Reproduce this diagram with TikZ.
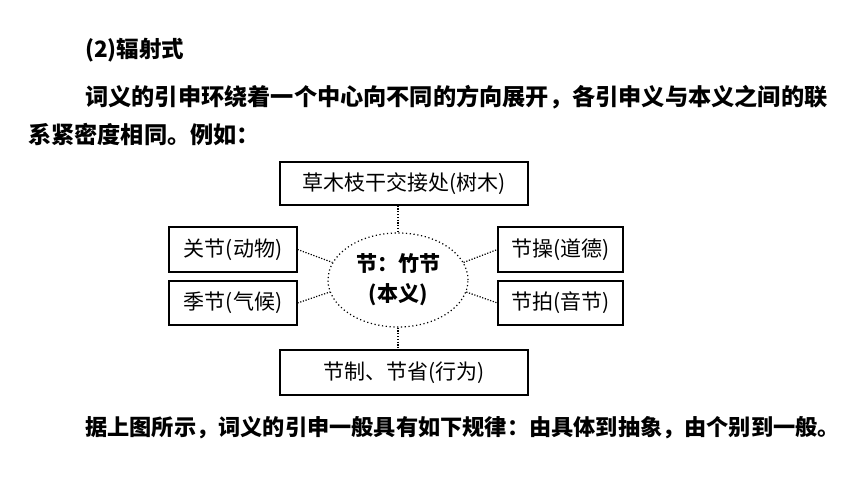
\documentclass[tikz,border=0pt]{standalone}
\usepackage{fontspec}
\setmainfont{Noto Sans CJK SC}
\usetikzlibrary{shapes.geometric}
\begin{document}
\begin{tikzpicture}[x=1pt,y=-1pt,
  box/.style={draw,line width=1.1pt,inner sep=0pt,font=\fontsize{21}{24}\selectfont},
  link/.style={draw,dash pattern=on 1.2pt off 1.6pt,line width=1.2pt},
  txt/.style={anchor=west,inner sep=0pt,font=\fontsize{22.5}{26}\selectfont\bfseries}]
\useasboundingbox[fill=white] (0,0) rectangle (860,484);
\node[txt] (h) at (85,50) {(2)辐射式};
\node[txt,font=\fontsize{23.2}{26}\selectfont\bfseries] (p1) at (85,97) {词义的引申环绕着一个中心向不同的方向展开，各引申义与本义之间的联};
\node[txt,font=\fontsize{23.2}{26}\selectfont\bfseries] (p2) at (28,135) {系紧密度相同。例如：};
\node[txt,font=\fontsize{22.2}{26}\selectfont\bfseries] (p3) at (85,428) {据上图所示，词义的引申一般具有如下规律：由具体到抽象，由个别到一般。};

\node[box,minimum width=248,minimum height=43] (top) at (404,183.5) {草木枝干交接处(树木)};
\node[box,minimum width=128,minimum height=45] (lt) at (233,249.5) {关节(动物)};
\node[box,minimum width=128,minimum height=44] (lb) at (233,303) {季节(气候)};
\node[box,minimum width=125,minimum height=45] (rt) at (560.5,249.5) {节操(道德)};
\node[box,minimum width=125,minimum height=44] (rb) at (560.5,303) {节拍(音节)};
\node[box,minimum width=248,minimum height=45] (bot) at (404,372.5) {节制、节省(行为)};
\node[ellipse,link,dash pattern=on 1.2pt off 2.6pt,minimum width=140,minimum height=94,inner sep=0pt,align=center,
  font=\fontsize{21}{30}\selectfont\bfseries] (ell) at (398,280) {节：竹节\\(本义)};

\draw[link] (top.south -| ell.north) -- (ell.north);
\draw[link] (ell.south) -- (bot.north -| ell.south);
\draw[link] (lt.east) -- (ell.165);
\draw[link] (lb.east) -- (ell.190);
\draw[link] (ell.15) -- (rt.west);
\draw[link] (ell.-10) -- (rb.west);
\end{tikzpicture}
\end{document}
